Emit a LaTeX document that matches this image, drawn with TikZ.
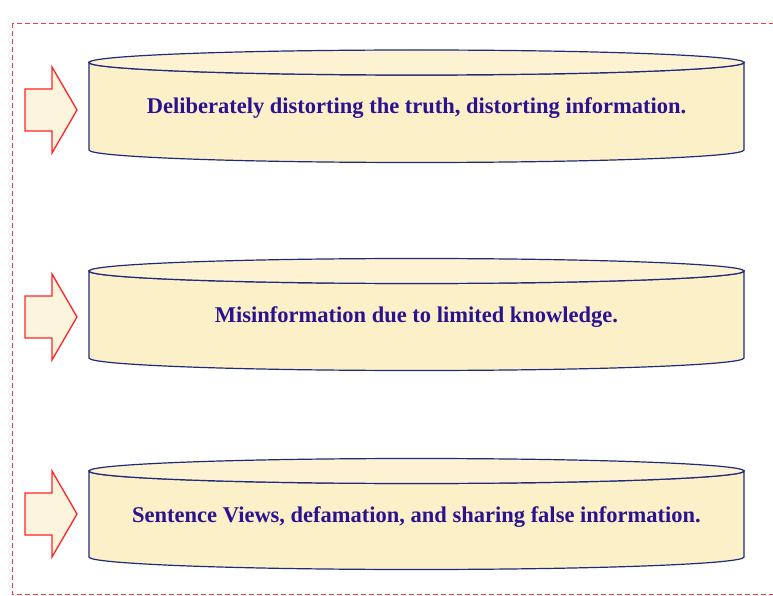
\documentclass[tikz,border=0pt]{standalone}
\usepackage{fontspec}
\setmainfont{Liberation Serif}
\definecolor{cream}{HTML}{FCF0C8}
\definecolor{creamtop}{HTML}{FDF3D2}
\definecolor{cylline}{HTML}{1F2A78}
\definecolor{txtblue}{HTML}{2A1290}
\definecolor{arrred}{HTML}{FF2424}
\definecolor{arrfill}{HTML}{FDF4DE}
\definecolor{bordred}{HTML}{F23A3A}
\tikzset{
  cylbody/.style={fill=cream, draw=cylline, line width=1.2pt},
  cyltop/.style={fill=creamtop, draw=cylline, line width=1.2pt},
  arrowshape/.style={fill=arrfill, draw=arrred, line width=1.3pt, line join=miter},
  label/.style={font=\fontsize{22.5}{27}\selectfont\bfseries, text=txtblue, inner sep=0pt},
  frame/.style={draw=bordred, line width=0.9pt, dash pattern=on 5pt off 3pt}
}
\begin{document}
\begin{tikzpicture}[x=1pt,y=1pt]
\useasboundingbox (0,0) rectangle (773,595);
\clip (0,0) rectangle (773,595);
\fill[white] (0,0) rectangle (773,595);
% frame
\draw[frame] (12,572) rectangle (790,1);
% cylinders and arrows
\foreach \yt/\yb/\ya [count=\i] in {532.5/445/485, 324/237/278, 124/38/81}{
  \draw[cylbody] (89,\yt) -- (89,\yb)
     arc[start angle=180, end angle=360, x radius=327.5, y radius=12.5]
     -- (744,\yt)
     arc[start angle=0, end angle=-180, x radius=327.5, y radius=12.5] -- cycle;
  \draw[cyltop] (416.5,\yt) ellipse[x radius=327.5, y radius=12.5];
  \draw[arrowshape] (25,\ya+21) -- (52,\ya+21) -- (52,\ya+43) -- (77,\ya)
     -- (52,\ya-43) -- (52,\ya-21) -- (25,\ya-21) -- cycle;
}
\node[label] (t1) at (416.5,487) {Deliberately distorting the truth, distorting information.};
\node[label] (t2) at (416.5,278) {Misinformation due to limited knowledge.};
\node[label] (t3) at (416.5,78) {Sentence Views, defamation, and sharing false information.};
\end{tikzpicture}
\end{document}
